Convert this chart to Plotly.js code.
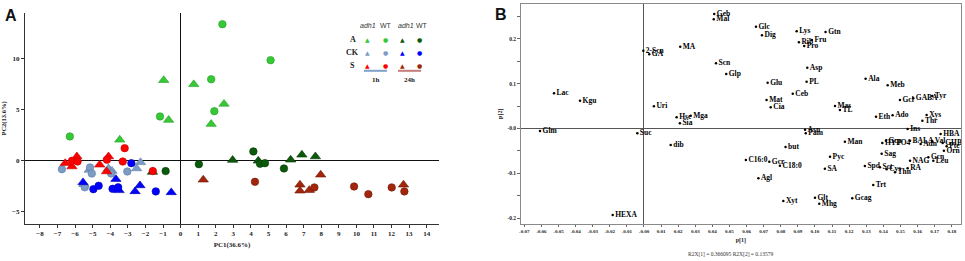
<!DOCTYPE html>
<html>
<head>
<meta charset="utf-8">
<script src="https://cdn.plot.ly/plotly-3.0.1.min.js"></script>
<style>html,body{margin:0;padding:0;background:#fff;}#chart{width:965px;height:261px;}</style>
</head>
<body>
<div id="chart"></div>
<script>
// ---------- Panel A: PCA scores ----------
const A1h_adh1_x = [-3.46, -0.96, -0.68, 0.75, 1.74, 2.47];
const A1h_adh1_y = [2.06, 7.9, 4.0, 7.5, 3.6, 5.58];
const A1h_WT_x = [-6.3, -1.17, 1.74, 1.92, 2.38, 5.12];
const A1h_WT_y = [2.39, 4.35, 8.0, 4.87, 13.4, 9.87];
const A24h_adh1_x = [-1.6, 2.96, 4.42, 6.26, 6.9, 7.67];
const A24h_adh1_y = [-1.1, 0.07, 0.0, 0.1, 0.59, 0.42];
const A24h_WT_x = [-0.85, 1.04, 4.14, 4.52, 4.8, 5.88];
const A24h_WT_y = [-1.01, -0.33, 0.92, -0.29, -0.23, -0.75];
const CK1h_adh1_x = [-5.2, -4.1, -3.9, -2.5, -2.28, -5.5];
const CK1h_adh1_y = [-0.9, -0.75, -1.0, -0.75, -0.15, -2.3];
const CK1h_WT_x = [-6.75, -5.45, -5.15, -5.05, -3.95, -3.03];
const CK1h_WT_y = [-0.82, -2.6, -0.65, -1.25, -1.25, -1.05];
const CK24h_adh1_x = [-5.55, -3.68, -3.5, -2.59, -2.31, -0.53];
const CK24h_adh1_y = [-2.12, -1.8, -2.9, -3.0, -2.42, -3.1];
const CK24h_WT_x = [-4.96, -4.66, -3.87, -3.55, -2.8, -1.41];
const CK24h_WT_y = [-2.78, -2.45, -2.75, -2.6, -0.23, -3.0];
const S1h_adh1_x = [-6.56, -6.18, -5.9, -4.6, -4.1, -4.21];
const S1h_adh1_y = [-0.23, -0.56, 0.42, -0.39, 0.42, -1.05];
const S1h_WT_x = [-6.18, -5.86, -4.19, -3.18, -3.29, -1.58];
const S1h_WT_y = [0.0, -0.07, 0.1, 1.24, -0.07, -1.01];
const S24h_adh1_x = [1.29, 6.79, 6.79, 7.32, 7.97, 12.68];
const S24h_adh1_y = [-1.86, -2.35, -2.94, -2.88, -1.37, -2.35];
const S24h_WT_x = [4.23, 7.61, 9.87, 10.68, 12.01, 12.73];
const S24h_WT_y = [-2.06, -2.61, -2.52, -3.27, -2.61, -3.0];

const legendRows = ['A', 'CK', 'S'];
const legendTimes = ['1h', '24h'];
const legendGenotypes = ['adh1', 'WT'];

// ---------- Panel B: loadings ----------
const metNames = ['Lac','Kgu','Glm','Suc','dib','HEXA','2-Scn','GA','MA','Uri','Hse','Mga','Sia',
  'Geb','Mal','Glc','Dig','Lys','Rib','Fru','Pro','Gtn','Scn','Glp','Asp','Glu','PL','Ceb','Mat','Cia',
  'Mas','TL','Ala','Meb','Gcl','GABA','Tyr','Eth','Ado','Xys','Thr','Ins','Asn','Pam','Man','but','Pyc',
  'C16:0','Gcr','C18:0','SA','Agl','Xyt','Glt','Mhg','Gcag','Spd','Sct','Cys','Thn','RA','NAG','Gcn',
  'Leu','Trt','Sag','HYPO4','Gcp','BALA','Adn','Val','HBA','GHB','Pte','Orn'];
const metP1 = [-0.0526,-0.0374,-0.0608,-0.0039,0.0156,-0.0183,-0.0004,0.0031,0.0212,0.0058,0.0191,0.0273,0.021,
  0.0411,0.0408,0.0655,0.069,0.0893,0.0906,0.0982,0.0937,0.1062,0.0421,0.0481,0.0955,0.0723,0.0951,0.087,0.0717,0.0741,
  0.1117,0.1146,0.1296,0.1425,0.1497,0.1575,0.1686,0.1357,0.1454,0.1653,0.1628,0.1542,0.0942,0.0946,0.1175,0.0828,0.1088,
  0.0596,0.0733,0.0795,0.1058,0.0669,0.0815,0.1,0.1025,0.1218,0.1292,0.138,0.1419,0.1468,0.1542,0.1556,0.1663,
  0.1692,0.1341,0.139,0.1394,0.1415,0.1556,0.1618,0.1686,0.1735,0.1747,0.177,0.1754];
const metP2 = [0.0786,0.062,-0.0056,-0.0107,-0.0368,-0.193,0.1737,0.1656,0.1827,0.050,0.025,0.0286,0.0116,
  0.2556,0.2437,0.2272,0.208,0.217,0.1924,0.1975,0.184,0.2154,0.1455,0.1217,0.1357,0.1022,0.1045,0.0777,0.0636,0.0473,
  0.0502,0.0413,0.1112,0.0964,0.0636,0.0674,0.0725,0.0263,0.0295,0.0301,0.0174,-0.001,-0.0027,-0.0107,-0.0294,-0.0413,-0.0629,
  -0.0703,-0.0741,-0.083,-0.0897,-0.1112,-0.1618,-0.1545,-0.1679,-0.1558,-0.0837,-0.0867,-0.0911,-0.0978,-0.0889,-0.0718,-0.0643,
  -0.0718,-0.1261,-0.0562,-0.0324,-0.0272,-0.0272,-0.0346,-0.0286,-0.0123,-0.0324,-0.0398,-0.0495];

const bXTickLabels = ['-0.07','-0.06','-0.05','-0.04','-0.03','-0.02','-0.01','-0.00','0.01','0.02','0.03','0.04','0.05',
  '0.06','0.07','0.08','0.09','0.10','0.11','0.12','0.13','0.14','0.15','0.16','0.17','0.18'];
const bYTickValues = [-0.2,-0.15,-0.1,-0.05,0,0.05,0.1,0.15,0.2,0.25];
const bYTickLabels = ['-0.2','','-0.1','','-0.0','','0.1','','0.2',''];

// ---------- styling ----------
const colors = {
  A_1h: '#37c837', A_24h: '#0b5a0b',
  CK_1h: '#7c9cc6', CK_24h: '#0000ff',
  S_1h: '#ff0000', S_24h: '#a2260c'
};
const outline = {
  A_1h: '#23a023', A_24h: '#063806',
  CK_1h: '#5a7aa4', CK_24h: '#0000b0',
  S_1h: '#c00000', S_24h: '#701a08'
};
const W = 965, H = 261;
const px = v => v / W, py = v => 1 - v / H;

function grp(x, y, key, symbol) {
  return {
    type: 'scatter', mode: 'markers', x: x, y: y, xaxis: 'x', yaxis: 'y',
    marker: { symbol: symbol, size: symbol === 'circle' ? 7.5 : 9, color: colors[key],
      line: { color: outline[key], width: 0.6 } },
    hoverinfo: 'skip'
  };
}

const traces = [
  grp(A1h_adh1_x, A1h_adh1_y, 'A_1h', 'triangle-up'),
  grp(A1h_WT_x, A1h_WT_y, 'A_1h', 'circle'),
  grp(A24h_adh1_x, A24h_adh1_y, 'A_24h', 'triangle-up'),
  grp(A24h_WT_x, A24h_WT_y, 'A_24h', 'circle'),
  grp(CK1h_adh1_x, CK1h_adh1_y, 'CK_1h', 'triangle-up'),
  grp(CK1h_WT_x, CK1h_WT_y, 'CK_1h', 'circle'),
  grp(CK24h_adh1_x, CK24h_adh1_y, 'CK_24h', 'triangle-up'),
  grp(CK24h_WT_x, CK24h_WT_y, 'CK_24h', 'circle'),
  grp(S1h_adh1_x, S1h_adh1_y, 'S_1h', 'triangle-up'),
  grp(S1h_WT_x, S1h_WT_y, 'S_1h', 'circle'),
  grp(S24h_adh1_x, S24h_adh1_y, 'S_24h', 'triangle-up'),
  grp(S24h_WT_x, S24h_WT_y, 'S_24h', 'circle'),
  {
    type: 'scatter', mode: 'markers+text', x: metP1, y: metP2, text: metNames,
    xaxis: 'x2', yaxis: 'y2', textposition: 'middle right',
    marker: { size: 2.5, color: '#000000' },
    textfont: { family: 'Liberation Serif', size: 7.5, color: '#000000', weight: 'bold' },
    cliponaxis: false, hoverinfo: 'skip'
  }
];

const serifB = (s) => ({ family: 'Liberation Serif', size: s, color: '#222', weight: 'bold' });

const annotations = [
  { text: 'A', x: px(3), y: py(15), xref: 'paper', yref: 'paper', xanchor: 'left', yanchor: 'middle', showarrow: false,
    font: { family: 'Liberation Sans', size: 16, color: '#111', weight: 'bold' } },
  { text: 'B', x: px(493), y: py(14), xref: 'paper', yref: 'paper', xanchor: 'left', yanchor: 'middle', showarrow: false,
    font: { family: 'Liberation Sans', size: 16, color: '#111', weight: 'bold' } },
  { text: 'R2X[1] = 0.366095 R2X[2] = 0.13579', x: px(730), y: py(254), xref: 'paper', yref: 'paper',
    xanchor: 'center', yanchor: 'middle', showarrow: false,
    font: { family: 'Liberation Serif', size: 5.5, color: '#333' } }
];

// Legend table of panel A
const colX = [367.5, 385.7, 402.3, 419.7];
const rowY = [39, 52, 65.7];
const headerX = [368, 386, 406, 422];
for (let c = 0; c < 4; c++) {
  const g = legendGenotypes[c % 2];
  annotations.push({ text: g === 'adh1' ? '<i>' + g + '</i>' : g, x: px(headerX[c]), y: py(25),
    xref: 'paper', yref: 'paper', xanchor: 'center', yanchor: 'middle', showarrow: false,
    font: { family: 'Liberation Sans', size: 7, color: '#333' } });
}
legendRows.forEach((r, i) => {
  annotations.push({ text: r, x: px(352.5), y: py(rowY[i]), xref: 'paper', yref: 'paper',
    xanchor: 'center', yanchor: 'middle', showarrow: false, font: serifB(8) });
  for (let c = 0; c < 4; c++) {
    const key = r + '_' + legendTimes[c < 2 ? 0 : 1];
    const tri = (c % 2) === 0;
    annotations.push({ text: tri ? '\u25B2' : '\u25CF', x: px(colX[c]), y: py(rowY[i]),
      xref: 'paper', yref: 'paper', xanchor: 'center', yanchor: 'middle', showarrow: false,
      font: { family: 'DejaVu Sans', size: 6, color: colors[key] } });
  }
});
legendTimes.forEach((t, i) => {
  annotations.push({ text: t, x: px(i === 0 ? 376 : 409.5), y: py(79.5), xref: 'paper', yref: 'paper',
    xanchor: 'center', yanchor: 'middle', showarrow: false, font: serifB(7) });
});

const shapes = [
  { type: 'line', xref: 'paper', yref: 'paper', x0: px(364), x1: px(387), y0: py(70.8), y1: py(70.8),
    line: { color: '#7fa0c8', width: 2 } },
  { type: 'line', xref: 'paper', yref: 'paper', x0: px(398), x1: px(421), y0: py(70.8), y1: py(70.8),
    line: { color: '#c47c7c', width: 2 } }
];

const layout = {
  width: W, height: H, margin: { l: 0, r: 0, t: 0, b: 0 },
  paper_bgcolor: '#fff', plot_bgcolor: '#fff', showlegend: false,
  xaxis: {
    domain: [px(25), px(439)], range: [-8.85, 14.7], anchor: 'y',
    tickmode: 'linear', tick0: 0, dtick: 1, ticks: 'outside', ticklen: 3, tickcolor: '#333',
    showline: true, linecolor: '#333', linewidth: 1, showgrid: false,
    zeroline: true, zerolinecolor: '#111', zerolinewidth: 1,
    tickfont: serifB(7), automargin: false,
    title: { text: 'PC1(36.6%)', font: serifB(7), standoff: 4 }
  },
  yaxis: {
    domain: [py(224), py(13)], range: [-6.2, 14.5], anchor: 'x',
    tickmode: 'linear', tick0: 0, dtick: 5, ticks: 'outside', ticklen: 3, tickcolor: '#333',
    showline: true, linecolor: '#333', linewidth: 1, showgrid: false,
    zeroline: true, zerolinecolor: '#111', zerolinewidth: 1,
    tickfont: serifB(7), automargin: false,
    title: { text: 'PC2(13.6%)', font: serifB(6.5), standoff: 4 }
  },
  xaxis2: {
    domain: [px(520.7), px(961)], range: [-0.0721, 0.1854], anchor: 'y2',
    tickmode: 'array', tickvals: bXTickLabels.map(s => parseFloat(s)), ticktext: bXTickLabels,
    ticks: 'outside', ticklen: 2.5, tickcolor: '#666',
    showline: true, mirror: true, linecolor: '#8a8a8a', linewidth: 1, showgrid: false,
    zeroline: true, zerolinecolor: '#555', zerolinewidth: 1,
    tickfont: serifB(5), automargin: false,
    title: { text: 'p[1]', font: serifB(6), standoff: 4 }
  },
  yaxis2: {
    domain: [py(223.5), py(4)], range: [-0.212, 0.278], anchor: 'x2',
    tickmode: 'array', tickvals: bYTickValues, ticktext: bYTickLabels,
    ticks: 'outside', ticklen: 2.5, tickcolor: '#666',
    showline: true, mirror: true, linecolor: '#8a8a8a', linewidth: 1, showgrid: false,
    zeroline: true, zerolinecolor: '#555', zerolinewidth: 1,
    tickfont: serifB(5.5), automargin: false,
    title: { text: 'p[2]', font: serifB(6), standoff: 4 }
  },
  annotations: annotations,
  shapes: shapes
};

Plotly.newPlot('chart', traces, layout, { staticPlot: true, displayModeBar: false });
</script>
</body>
</html>
